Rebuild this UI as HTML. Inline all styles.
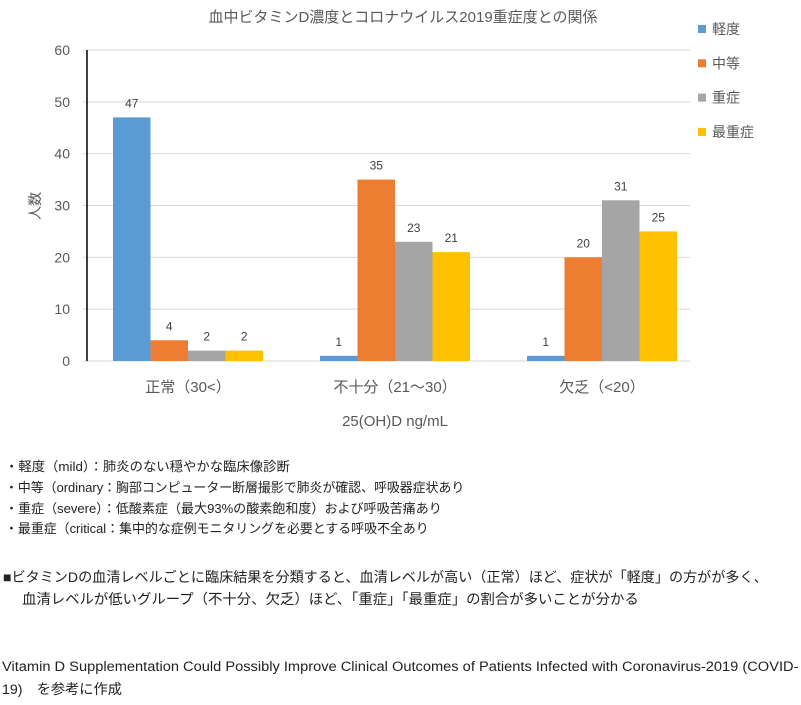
<!DOCTYPE html>
<html><head><meta charset="utf-8"><style>
body{margin:0;background:#fff;}
svg{display:block;font-family:"Liberation Sans","Noto Sans CJK JP",sans-serif;}
</style></head><body>
<svg id="c" width="801" height="705" viewBox="0 0 801 705">
<text x="403" y="22" text-anchor="middle" font-size="15" fill="#595959">血中ビタミンD濃度とコロナウイルス2019重症度との関係</text>
<g id="grid"></g><g id="bars"></g><g id="labels"></g>
<text transform="translate(40,206) rotate(-90)" text-anchor="middle" font-size="14" fill="#595959">人数</text>
<text x="395" y="426" text-anchor="middle" font-size="15" fill="#595959">25(OH)D ng/mL</text>
<g id="legend"></g>
<g font-size="13" fill="#222">
<text class="fit" data-w="285" x="5" y="471">・軽度（mild）：肺炎のない穏やかな臨床像診断</text>
<text class="fit" data-w="460" x="5" y="492">・中等（ordinary：胸部コンピューター断層撮影で肺炎が確認、呼吸器症状あり</text>
<text class="fit" data-w="437" x="5" y="513">・重症（severe）：低酸素症（最大93%の酸素飽和度）および呼吸苦痛あり</text>
<text class="fit" data-w="424" x="5" y="533">・最重症（critical：集中的な症例モニタリングを必要とする呼吸不全あり</text>
<text class="fit" data-w="765" x="3" y="582" font-size="14">■ビタミンDの血清レベルごとに臨床結果を分類すると、血清レベルが高い（正常）ほど、症状が「軽度」の方がが多く、</text>
<text class="fit" data-w="617" x="22" y="604" font-size="14">血清レベルが低いグループ（不十分、欠乏）ほど、「重症」「最重症」の割合が多いことが分かる</text>
<text class="fit" data-w="797" x="2" y="671" font-size="14">Vitamin D Supplementation Could Possibly Improve Clinical Outcomes of Patients Infected with Coronavirus-2019 (COVID-</text>
<text class="fit" data-w="120" x="2" y="694" font-size="14">19)　を参考に作成</text>
</g>
</svg>
<script>
const categories=["正常（30<）","不十分（21～30）","欠乏（<20）"];
const seriesNames=["軽度","中等","重症","最重症"];
const mild=[47,1,1];
const ordinary=[4,35,20];
const severe=[2,23,31];
const critical=[2,21,25];
const yTicks=[0,10,20,30,40,50,60];
const colors=["#5b9bd5","#ed7d31","#a5a5a5","#ffc000"];
const series=[mild,ordinary,severe,critical];
const NS="http://www.w3.org/2000/svg";
const x0=87,x1=690,yTop=50,yBot=361;
const y=v=>yBot-(v/60)*(yBot-yTop);
const gw=207, bw=37.5;
const xc=i=>84.5+gw*(i+0.5);
function mk(t,a,p){const e=document.createElementNS(NS,t);for(const k in a)e.setAttribute(k,a[k]);p.appendChild(e);return e;}
const grid=document.getElementById('grid');
yTicks.forEach(t=>{
 const l=mk('line',{x1:x0-4,x2:x1,y1:y(t),y2:y(t),stroke:'#d9d9d9','stroke-width':1},grid);
 
 
 const tx=mk('text',{x:70,y:y(t)+5,'text-anchor':'end','font-size':14,fill:'#595959'},grid);
 tx.textContent=t;
 
 
});
const ax=mk('line',{x1:x0,x2:x0,y1:yTop,y2:yBot,stroke:'#000','stroke-width':1.5},grid);


const bars=document.getElementById('bars'),labels=document.getElementById('labels');
categories.forEach((c,i)=>{
 series.forEach((s,j)=>{
  const bx=xc(i)-2*bw+j*bw;
  const r=mk('rect',{x:bx,y:y(s[i]),width:bw,height:yBot-y(s[i]),fill:colors[j]},bars);
  
  
  const t=mk('text',{x:bx+bw/2,y:y(s[i])-10,'text-anchor':'middle','font-size':12,fill:'#404040'},labels);
  t.textContent=s[i];
  
  
 });
 const ct=mk('text',{x:xc(i),y:392,'text-anchor':'middle','font-size':15,fill:'#595959'},labels);
 ct.textContent=c;
 
 
});
const lg=document.getElementById('legend');
seriesNames.forEach((n,j)=>{
 const yy=29+j*34.3;
 const r=mk('rect',{x:698,y:yy-4,width:8,height:8,fill:colors[j]},lg);
 
 
 const t=mk('text',{x:712,y:yy+5,'font-size':14,fill:'#595959'},lg);
 t.textContent=n;
 
 
});
document.querySelectorAll('text.fit').forEach(t=>{
 const w=+t.getAttribute('data-w'),x=+t.getAttribute('x');
 const n=t.getComputedTextLength();
 if(n>0){const s=w/n;t.setAttribute('transform','translate('+x+',0) scale('+s+',1) translate('+(-x)+',0)');}
});
</script>
</body></html>
